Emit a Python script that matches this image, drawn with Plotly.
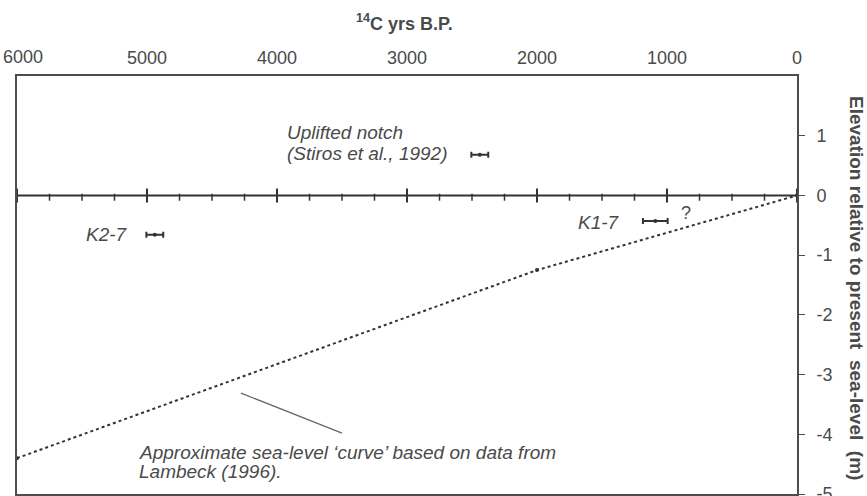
import plotly.graph_objects as go

# ---- data ----
curve_age = [6000, 2000, 0]
curve_elev = [-4.40, -1.25, 0.0]

sample_names = ["Uplifted notch", "K1-7", "K2-7"]
sample_age = [2440, 1090, 4940]
sample_age_err = [65, 95, 65]
sample_elev = [0.68, -0.43, -0.66]

x_ticks = [6000, 5000, 4000, 3000, 2000, 1000, 0]
y_ticks = [-5, -4, -3, -2, -1, 0, 1]
zero_major = [6000, 5000, 4000, 3000, 2000, 1000, 0]
zero_minor = [5750, 5500, 5250, 4750, 4500, 4250, 3750, 3500, 3250,
              2750, 2500, 2250, 1750, 1500, 1250, 750, 500, 250]

TXT = "#4a4a4a"
LINE = "#4d4d4d"
DARK = "#333333"
FONT = "Liberation Sans, Arial, sans-serif"

fig = go.Figure()

# zero line
fig.add_trace(go.Scatter(x=[6000, 0], y=[0, 0], mode="lines",
                         line=dict(color=DARK, width=2), hoverinfo="skip"))
fig.add_trace(go.Scatter(x=zero_major, y=[0] * len(zero_major), mode="markers",
                         marker=dict(symbol="line-ns", size=10,
                                     line=dict(color=DARK, width=2)),
                         hoverinfo="skip"))
fig.add_trace(go.Scatter(x=zero_minor, y=[-0.03] * len(zero_minor), mode="markers",
                         marker=dict(symbol="line-ns", size=5,
                                     line=dict(color=DARK, width=1.5)),
                         hoverinfo="skip"))

# sea-level curve
fig.add_trace(go.Scatter(x=curve_age, y=curve_elev, mode="lines+markers",
                         line=dict(color=DARK, width=2, dash="dot"),
                         marker=dict(size=4, color=DARK), hoverinfo="skip"))

# samples with age error bars
fig.add_trace(go.Scatter(x=sample_age, y=sample_elev, mode="markers",
                         marker=dict(size=4, color=DARK),
                         error_x=dict(type="data", array=sample_age_err,
                                      color=DARK, thickness=2, width=3),
                         hoverinfo="skip"))

# pointer line
fig.add_shape(type="line", x0=4277, y0=-3.31, x1=3500, y1=-3.98,
              line=dict(color="#666666", width=1.2))

def ann(text, x, y, xanchor="left", italic=True, size=19):
    fig.add_annotation(x=x, y=y, xref="x", yref="y", text=text, showarrow=False,
                       xanchor=xanchor, yanchor="middle",
                       font=dict(family=FONT, size=size, color=TXT,
                                 style="italic" if italic else "normal"))

ann("Uplifted notch", 3938, 1.06)
ann("(Stiros et al., 1992)", 3938, 0.71)
ann("K1-7", 1346, -0.45, xanchor="right")
ann("?", 908, -0.29, italic=False, size=18)
ann("K2-7", 5485, -0.66)
ann("Approximate sea-level \u2018curve\u2019 based on data from", 5077, -4.30)
ann("Lambeck (1996).", 5077, -4.63)

# leftmost top tick label, kept inside the page like the reference
x_ticktext = ["" if v == 6000 else str(v) for v in x_ticks]
fig.add_annotation(x=0, y=1.0, xref="paper", yref="paper", xanchor="left",
                   yanchor="middle", xshift=-16, yshift=19, text=str(x_ticks[0]),
                   showarrow=False, font=dict(family=FONT, size=18, color=TXT))

# axis titles
fig.add_annotation(x=0.5, y=1.0, xref="paper", yref="paper", yanchor="middle",
                   xshift=-3, yshift=54,
                   text="<sup>14</sup>C yrs B.P.", showarrow=False,
                   font=dict(family=FONT, size=18, color=TXT, weight="bold"))

fig.add_annotation(x=1.0, y=0.5, xref="paper", yref="paper", xanchor="center",
                   yanchor="middle", xshift=60, yshift=-3, textangle=90,
                   text="Elevation relative to present\u00a0\u00a0sea-level\u00a0\u00a0(m)",
                   showarrow=False,
                   font=dict(family=FONT, size=19, color=TXT, weight="bold"))

fig.update_layout(
    width=867, height=496,
    margin=dict(l=17, r=70, t=76, b=2, autoexpand=False),
    paper_bgcolor="white", plot_bgcolor="white",
    showlegend=False,
    xaxis=dict(range=[6000, 0], side="top", tickvals=x_ticks,
               ticktext=x_ticktext, automargin=False,
               ticklabeloverflow="allow",
               showgrid=False, zeroline=False, showline=True, mirror=True,
               linecolor=LINE, linewidth=2, ticks="", ticklabelstandoff=3,
               tickfont=dict(family=FONT, size=18, color=TXT)),
    yaxis=dict(range=[-5, 2], side="right", tickvals=y_ticks,
               ticktext=[str(v) for v in y_ticks], automargin=False,
               ticklabeloverflow="allow",
               showgrid=False, zeroline=False, showline=True, mirror=True,
               linecolor=LINE, linewidth=2, ticks="outside", ticklen=6,
               tickcolor=LINE, tickwidth=1, ticklabelstandoff=8,
               tickfont=dict(family=FONT, size=18, color=TXT)),
)

fig.write_html("out.html", config={"displayModeBar": False},
               post_script="document.body.style.margin='0';document.body.style.padding='0';document.body.style.overflow='hidden';")
